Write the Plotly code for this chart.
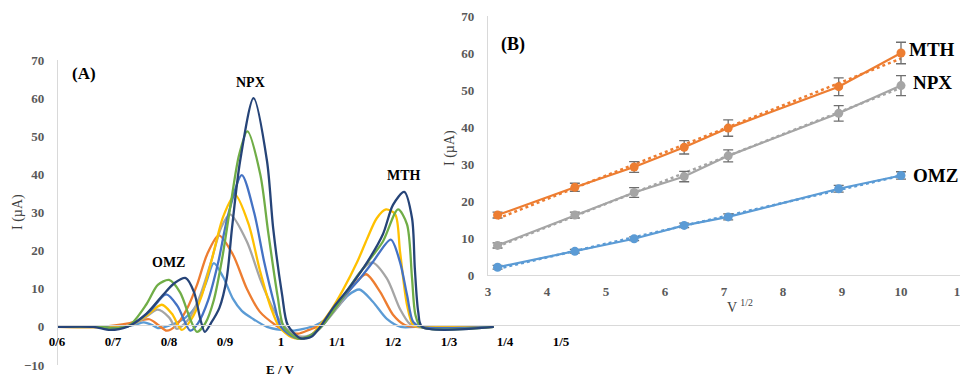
import numpy as np
import plotly.graph_objects as go

# The page body adds an 8px offset, so the figure covers the window minus that offset.
OFF = 8
W, H = 968 - OFF, 379 - OFF

# ---------------- Panel A data (voltammograms) ----------------
colors_a = ["#5B9BD5", "#ED7D31", "#A5A5A5", "#FFC000", "#4472C4", "#70AD47", "#264478"]

lb_x = [0.60, 0.68, 0.72, 0.74, 0.755, 0.77, 0.78, 0.80, 0.83, 0.85, 0.866, 0.88, 0.897, 0.914, 0.93, 0.95, 0.975, 1.00, 1.02, 1.04, 1.06, 1.08, 1.10, 1.12, 1.14, 1.164, 1.189, 1.214, 1.24, 1.38]
lb_y = [0, 0, 0.1, 0.6, 1.2, 0.5, -0.3, 0.3, 2.5, 5.8, 11.5, 16.7, 13, 7.4, 4.2, 2.1, 0, -0.8, -1.0, -0.5, 0.3, 2.0, 5.0, 8.3, 9.8, 6.6, 2.1, 0, 0, 0]

or_x = [0.60, 0.68, 0.70, 0.73, 0.75, 0.765, 0.78, 0.796, 0.812, 0.832, 0.85, 0.868, 0.889, 0.914, 0.939, 0.962, 0.99, 1.01, 1.03, 1.05, 1.07, 1.09, 1.11, 1.13, 1.152, 1.177, 1.20, 1.221, 1.24, 1.38]
or_y = [0, 0, 0.3, 1.0, 1.7, 2.0, 0.6, -1.0, 0.3, 4.7, 11, 19, 24, 19, 10, 4, 0.5, -1.2, -1.8, -0.8, 0.5, 3.5, 7, 11, 13.8, 9.2, 3.2, 0.5, 0, 0]

gr_x = [0.60, 0.70, 0.73, 0.755, 0.78, 0.80, 0.814, 0.835, 0.855, 0.875, 0.893, 0.909, 0.939, 0.9625, 0.986, 1.004, 1.025, 1.045, 1.06, 1.075, 1.095, 1.115, 1.1375, 1.1625, 1.189, 1.2125, 1.23, 1.245, 1.38]
gr_y = [0, 0, 0.3, 2.2, 4.5, 2.5, -0.5, 2, 8, 17, 26, 29.5, 22.4, 12.7, 4.7, 0.5, -2.2, -2.5, -1.5, 0.5, 4, 8, 13.7, 16.9, 12.7, 4.7, 0.8, 0, 0]

ye_x = [0.60, 0.70, 0.73, 0.76, 0.787, 0.805, 0.823, 0.84, 0.858, 0.877, 0.897, 0.918, 0.942, 0.962, 0.982, 0.997, 1.02, 1.04, 1.055, 1.07, 1.09, 1.11, 1.136, 1.154, 1.171, 1.1875, 1.204, 1.2125, 1.225, 1.236, 1.25, 1.38]
ye_y = [0, 0, 0.3, 3, 5.8, 3.5, -0.8, 2, 8, 18, 29, 34.6, 27, 15, 5, 0, -2.8, -3, -2, 0.5, 4.5, 9.5, 17, 23.2, 28.5, 30.8, 29.5, 19.8, 5.8, 0.5, 0, 0]

bl_x = [0.60, 0.68, 0.70, 0.73, 0.765, 0.795, 0.815, 0.838, 0.852, 0.87, 0.888, 0.905, 0.93, 0.952, 0.97, 0.988, 1.0, 1.025, 1.045, 1.06, 1.075, 1.09, 1.11, 1.141, 1.164, 1.196, 1.2125, 1.225, 1.236, 1.25, 1.38]
bl_y = [0, 0, -0.3, 0.3, 4, 8.5, 5.5, -1, 1, 7, 17, 29, 39.8, 30, 17, 6, 0, -2.8, -2.8, -1.5, 0.5, 3.5, 7.5, 12.7, 17, 22.9, 17, 8.4, 1.3, 0, 0]

gn_x = [0.60, 0.68, 0.70, 0.73, 0.76, 0.78, 0.80, 0.82, 0.838, 0.85, 0.865, 0.88, 0.895, 0.91, 0.925, 0.94, 0.963, 0.977, 0.994, 1.005, 1.03, 1.05, 1.065, 1.08, 1.10, 1.125, 1.155, 1.182, 1.209, 1.225, 1.234, 1.24, 1.25, 1.38]
gn_y = [0, 0, -0.4, 0.5, 6, 11, 12.3, 9, 2, -1.3, 1, 7, 18, 32, 45, 51.3, 40, 25, 8, 0, -3, -2.5, -1, 1.5, 5.5, 11, 17, 22.4, 30.8, 26.9, 12.7, 3.2, 0, 0]

nv_x = [0.60, 0.665, 0.695, 0.725, 0.76, 0.79, 0.81, 0.83, 0.845, 0.856, 0.864, 0.875, 0.89, 0.903, 0.9125, 0.927, 0.951, 0.975, 0.986, 1.002, 1.012, 1.035, 1.055, 1.07, 1.093, 1.123, 1.154, 1.182, 1.2, 1.22, 1.234, 1.239, 1.245, 1.252, 1.38]
nv_y = [0, 0, -0.8, 0, 3.5, 8.5, 11.5, 12.8, 9, 2, -1.3, 1, 5, 12.7, 25.9, 43.5, 60, 43.5, 25.9, 8.4, 0.5, -3, -2.5, 0, 5, 10.5, 17, 24.3, 32, 35.4, 28.5, 15.3, 4, 0, 0]

a_ticks = [0.6, 0.7, 0.8, 0.9, 1.0, 1.1, 1.2, 1.3, 1.4, 1.5]
a_ticktext = ["0/6", "0/7", "0/8", "0/9", "1", "1/1", "1/2", "1/3", "1/4", "1/5"]

# ---------------- Panel B data ----------------
sqrt_v = [3.162, 4.472, 5.477, 6.325, 7.071, 8.944, 10.0]
mth = [16.2, 23.7, 29.2, 34.5, 39.7, 50.9, 60.0]
mth_err = [0.8, 1.1, 1.45, 1.8, 2.2, 2.4, 2.9]
npx = [8.0, 16.2, 22.3, 26.6, 32.2, 43.7, 51.2]
npx_err = [0.7, 0.8, 1.3, 1.4, 1.6, 2.1, 2.7]
omz = [2.1, 6.4, 9.8, 13.4, 15.7, 23.3, 26.9]
omz_err = [0.5, 0.5, 0.5, 0.6, 0.8, 0.9, 1.0]


def PX(x):
    return (x - OFF) / W


def PY(y):
    return 1 - (y - OFF) / H


SERIF = "Liberation Serif"
fig = go.Figure()

curves = [(lb_x, lb_y), (or_x, or_y), (gr_x, gr_y), (ye_x, ye_y),
          (bl_x, bl_y), (gn_x, gn_y), (nv_x, nv_y)]
for (xs, ys), c in zip(curves, colors_a):
    fig.add_trace(go.Scatter(x=xs, y=ys, mode="lines",
                             line=dict(color=c, width=2.3, shape="spline", smoothing=0.8),
                             xaxis="x", yaxis="y", showlegend=False, hoverinfo="skip"))

series_b = [(mth, mth_err, "#ED7D31"), (npx, npx_err, "#A5A5A5"), (omz, omz_err, "#5B9BD5")]
for vals, err, c in series_b:
    k, b = np.polyfit(sqrt_v, vals, 1)
    xt = [sqrt_v[0], sqrt_v[-1]]
    fig.add_trace(go.Scatter(x=xt, y=[k * v + b for v in xt], mode="lines",
                             line=dict(color=c, width=2.5, dash="dot"),
                             xaxis="x2", yaxis="y2", showlegend=False, hoverinfo="skip"))
    fig.add_trace(go.Scatter(x=sqrt_v, y=vals, mode="lines+markers",
                             line=dict(color=c, width=2.2),
                             marker=dict(color=c, size=9),
                             error_y=dict(type="data", array=err, color="#6f6f6f",
                                          thickness=1.3, width=5),
                             xaxis="x2", yaxis="y2", showlegend=False))

tickfont_gray = dict(family=SERIF, size=13, color="#595959", weight="bold")
tickfont_black = dict(family=SERIF, size=13, color="#000000", weight="bold")

fig.update_layout(
    width=W, height=H,
    margin=dict(l=0, r=0, t=0, b=0, pad=0, autoexpand=False),
    paper_bgcolor="white", plot_bgcolor="white",
    xaxis=dict(domain=[PX(57), 1.0], range=[0.6, 0.6 + (968 - 57) / 560],
               anchor="free", position=PY(325), automargin=False,
               tickmode="array", tickvals=a_ticks, ticktext=a_ticktext,
               showline=True, linecolor="#d9d9d9", linewidth=1.2,
               showgrid=False, zeroline=False, ticks="",
               tickfont=tickfont_black, ticklabelstandoff=4),
    yaxis=dict(domain=[PY(365), PY(60)], range=[-10, 70], dtick=10,
               anchor="free", position=PX(57), automargin=False,
               showline=True, linecolor="#d9d9d9", linewidth=1.2,
               showgrid=False, zeroline=False, ticks="",
               tickfont=tickfont_gray, ticklabelstandoff=10),
    xaxis2=dict(domain=[PX(488), PX(960)], range=[3, 11], dtick=1, anchor="y2",
                automargin=False,
                showline=True, linecolor="#d9d9d9", linewidth=1.2,
                showgrid=False, zeroline=False, ticks="",
                tickfont=tickfont_gray, ticklabelstandoff=4),
    yaxis2=dict(domain=[PY(275), PY(16)], range=[0, 70], dtick=10, anchor="x2",
                automargin=False,
                showline=True, linecolor="#d9d9d9", linewidth=1.2,
                showgrid=False, zeroline=False, ticks="",
                tickfont=tickfont_gray, ticklabelstandoff=10),
)


def ann(text, x, y, size, color="#000000", angle=0, bold=True, xanchor="center", yanchor="middle"):
    fig.add_annotation(text=("<b>%s</b>" % text) if bold else text,
                       x=PX(x), y=PY(y), xref="paper", yref="paper",
                       showarrow=False, textangle=angle, xanchor=xanchor, yanchor=yanchor,
                       font=dict(family=SERIF, size=size, color=color))


ann("(A)", 84, 73, 17)
ann("NPX", 250, 82, 14)
ann("OMZ", 168, 262, 14)
ann("MTH", 404, 175, 14)
ann("(B)", 513, 44, 18)
ann("MTH", 932, 50, 19)
ann("NPX", 932, 82, 19)
ann("OMZ", 935, 175, 19)
ann("I (µA)", 18, 212, 14, color="#404040", angle=-90, bold=False)
ann("I (µA)", 450, 148, 14, color="#404040", angle=-90, bold=False)
ann("V <sup>1/2</sup>", 740, 306, 14, color="#404040", bold=False)
ann("E / V", 280, 369, 13)

fig.write_html("out.html")
